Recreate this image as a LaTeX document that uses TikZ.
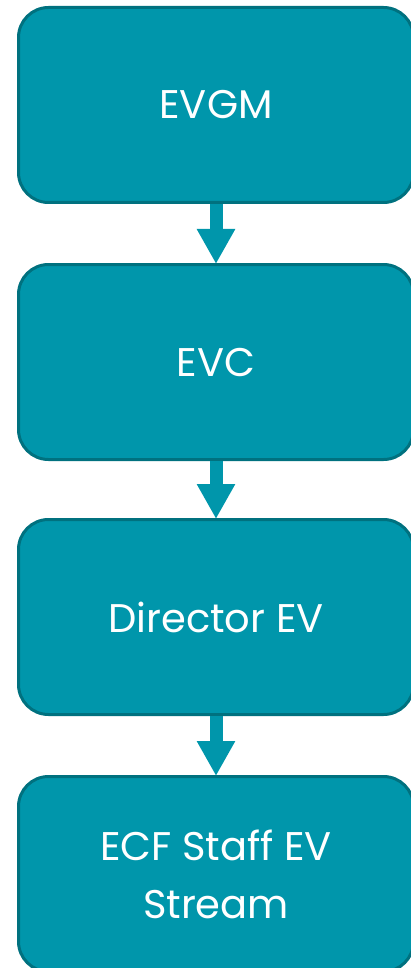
\documentclass[tikz,border=0pt]{standalone}
\usepackage{fontspec}
\setmainfont{Poppins}
\usetikzlibrary{arrows.meta}
\definecolor{tealfill}{HTML}{0096AB}
\definecolor{tealdark}{HTML}{00717F}
\tikzset{
  stepbox/.style={draw=tealdark, line width=3pt, fill=tealfill, rounded corners=30pt,
    minimum width=395pt, minimum height=195pt, inner sep=0pt, text=white,
    align=center, font=\fontsize{40}{58}\selectfont},
  flowarrow/.style={draw=tealfill, line width=13pt, -{Triangle[width=36pt,length=35pt]}, shorten >=-1pt}
}
\begin{document}
\begin{tikzpicture}[x=1pt,y=1pt]
\useasboundingbox (0,0) rectangle (410,-968);
\node[stepbox] (b1) at (216,-105) {EVGM};
\node[stepbox] (b2) at (216,-362) {EVC};
\node[stepbox] (b3) at (216,-617) {Director EV};
\node[stepbox] (b4) at (216,-874) {ECF Staff EV\\Stream};
\draw[flowarrow] (b1.south) -- (b2.north);
\draw[flowarrow] (b2.south) -- (b3.north);
\draw[flowarrow] (b3.south) -- (b4.north);
\end{tikzpicture}
\end{document}
